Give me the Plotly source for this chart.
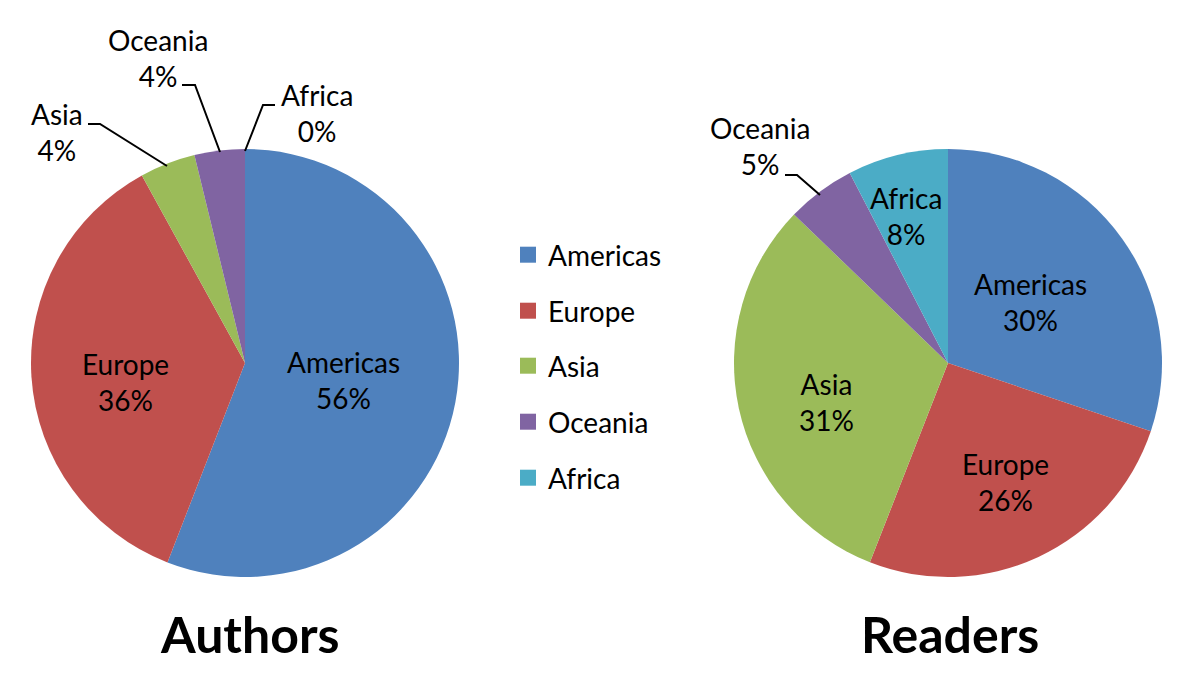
import plotly.graph_objects as go

# ---------------- data ----------------
regions = ["Americas", "Europe", "Asia", "Oceania", "Africa"]
authors_share = [55.9, 36.1, 4.2, 3.8, 0.0]
readers_share = [30.2, 25.8, 31.3, 5.2, 7.6]
chart_titles = ["Authors", "Readers"]

# ---------------- styles ----------------
colors = ["#4F81BD", "#C0504D", "#9BBB59", "#8064A2", "#4BACC6"]
FONT = "Lato"
OFF = 8                      # page body margin of the html page
W, H = 1200 - OFF, 693 - OFF  # figure size so that it fits the window


def px(x, y):
    """window pixel -> paper coords"""
    return (x - OFF) / W, 1 - (y - OFF) / H


def dom(x0, x1, y0, y1):
    a, b = px(x0, y1)
    c, d = px(x1, y0)
    return dict(x=[a, c], y=[b, d])


fig = go.Figure()

# pies
fig.add_trace(go.Pie(
    labels=regions, values=authors_share, sort=False, direction="clockwise",
    rotation=0, marker=dict(colors=colors), textinfo="none", hoverinfo="label+percent",
    domain=dom(31, 459, 149, 577), showlegend=False,
))
fig.add_trace(go.Pie(
    labels=regions, values=readers_share, sort=False, direction="clockwise",
    rotation=0, marker=dict(colors=colors), textinfo="none", hoverinfo="label+percent",
    domain=dom(734, 1162, 149, 577), showlegend=False,
))

# legend: one dummy trace per region, each in its own legend box
legend_rows_y = [255, 311, 366, 422, 478]
for i, (name, c) in enumerate(zip(regions, colors)):
    key = "legend" if i == 0 else f"legend{i + 1}"
    fig.add_trace(go.Scatter(
        x=[None], y=[None], mode="markers", name=name,
        marker=dict(symbol="square", size=17, color=c),
        legend=key, showlegend=True,
    ))
    lx, ly = px(508, legend_rows_y[i])
    fig.update_layout({key: dict(
        x=lx, y=ly, xanchor="left", yanchor="middle",
        font=dict(family=FONT, size=28, color="#000000"),
        bgcolor="rgba(0,0,0,0)", itemwidth=30,
    )})


def pct(v, vals):
    return f"{round(100 * v / sum(vals)):d}%"


# data labels: (series, index, pixel centre)
label_pos = [
    (authors_share, 0, (343, 380)), (authors_share, 1, (125, 382)),
    (authors_share, 2, (57, 132)), (authors_share, 3, (158, 58)),
    (authors_share, 4, (317, 113)),
    (readers_share, 0, (1030, 302)), (readers_share, 1, (1005, 482)),
    (readers_share, 2, (826, 402)), (readers_share, 3, (760, 146)),
    (readers_share, 4, (906, 216)),
]
annotations = []
for vals, i, (x, y) in label_pos:
    ax, ay = px(x, y)
    annotations.append(dict(
        x=ax, y=ay, xref="paper", yref="paper", showarrow=False,
        text=f"{regions[i]}<br>{pct(vals[i], vals)}", align="center",
        font=dict(family=FONT, size=28, color="#000000"),
        xanchor="center", yanchor="middle",
    ))

# titles
for t, x in zip(chart_titles, [249, 950]):
    ax, ay = px(x, 634)
    annotations.append(dict(
        x=ax, y=ay, xref="paper", yref="paper", showarrow=False, text=f"<b>{t}</b>",
        font=dict(family=FONT, size=50, color="#000000"),
        xanchor="center", yanchor="middle",
    ))

# leader lines
leaders = [
    [(88, 124), (100, 124), (167, 166)],
    [(182, 85), (195, 85), (220, 152)],
    [(275, 105), (263, 105), (245, 151)],
    [(785, 175), (797, 175), (820, 195)],
]
shapes = []
for pts in leaders:
    path = ""
    for k, (x, y) in enumerate(pts):
        a, b = px(x, y)
        path += ("M" if k == 0 else "L") + f"{a:.5f},{b:.5f} "
    shapes.append(dict(type="path", path=path, xref="paper", yref="paper",
                       line=dict(color="#000000", width=2)))

fig.update_layout(
    width=W, height=H, margin=dict(l=0, r=0, t=0, b=0),
    paper_bgcolor="white", plot_bgcolor="white",
    annotations=annotations, shapes=shapes,
    xaxis=dict(visible=False), yaxis=dict(visible=False),
)

fig.write_html("out.html")
